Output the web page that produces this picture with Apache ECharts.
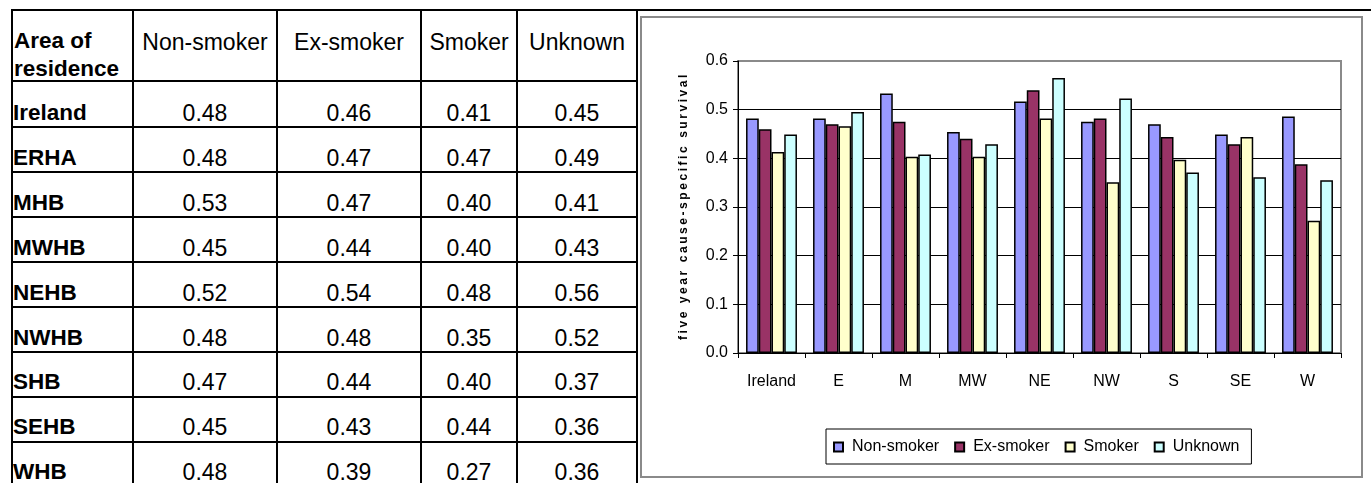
<!DOCTYPE html>
<html>
<head>
<meta charset="utf-8">
<script src="https://cdn.jsdelivr.net/npm/echarts@6/dist/echarts.min.js"></script>
<style>
  html, body { margin:0; padding:0; background:#fff; }
  #page { position:relative; width:1371px; height:483px; overflow:hidden; background:#fff;
          font-family:"Liberation Sans", Arial, sans-serif; color:#000; }
  .ln { position:absolute; background:#000; }
  .cell { position:absolute; font-size:23px; line-height:28px; white-space:nowrap; }
  .b { font-weight:bold; font-size:22.5px; }
  #chart { position:absolute; left:0; top:0; width:1371px; height:483px; }
  #ytitle { position:absolute; font-family:"Liberation Sans", Arial, sans-serif; font-weight:bold;
            font-size:12px; line-height:14px; white-space:nowrap; transform-origin:center center; color:#000; }
</style>
</head>
<body>
<div id="page">
  <div id="table"></div>
  <div id="chart"></div>
  <div id="ytitle">five year cause-specific survival</div>
</div>
<script>
// ---------- Table data ----------
const tableHeader = ['Non-smoker', 'Ex-smoker', 'Smoker', 'Unknown'];
const tableAreas = ['Ireland', 'ERHA', 'MHB', 'MWHB', 'NEHB', 'NWHB', 'SHB', 'SEHB', 'WHB'];
const tableNonSmoker = ['0.48', '0.48', '0.53', '0.45', '0.52', '0.48', '0.47', '0.45', '0.48'];
const tableExSmoker  = ['0.46', '0.47', '0.47', '0.44', '0.54', '0.48', '0.44', '0.43', '0.39'];
const tableSmoker    = ['0.41', '0.47', '0.40', '0.40', '0.48', '0.35', '0.40', '0.44', '0.27'];
const tableUnknown   = ['0.45', '0.49', '0.41', '0.43', '0.56', '0.52', '0.37', '0.36', '0.36'];

// ---------- Chart data ----------
const categories = ['Ireland', 'E', 'M', 'MW', 'NE', 'NW', 'S', 'SE', 'W'];
const seriesNames = ['Non-smoker', 'Ex-smoker', 'Smoker', 'Unknown'];
const nonSmoker = [0.482, 0.482, 0.533, 0.454, 0.517, 0.475, 0.470, 0.449, 0.486];
const exSmoker  = [0.460, 0.470, 0.475, 0.440, 0.540, 0.482, 0.444, 0.429, 0.388];
const smoker    = [0.413, 0.466, 0.403, 0.403, 0.482, 0.351, 0.397, 0.444, 0.272];
const unknown   = [0.449, 0.495, 0.408, 0.429, 0.565, 0.523, 0.371, 0.361, 0.355];
const yTicks = [0, 0.1, 0.2, 0.3, 0.4, 0.5, 0.6];

// ---------- Build table (HTML) ----------
(function buildTable() {
  const t = document.getElementById('table');
  const colX = [12, 133, 277, 421, 517, 637];
  const rowY = [10, 81, 127, 172, 217, 262, 307, 352, 397, 442];
  const add = (cls, style, text) => {
    const d = document.createElement('div');
    d.className = cls;
    Object.assign(d.style, style);
    if (text !== undefined) d.textContent = text;
    t.appendChild(d);
    return d;
  };
  // top page rule
  add('ln', { left: '11px', top: '9px', width: '1360px', height: '2px' });
  // horizontal rules
  rowY.slice(1).forEach(y => add('ln', { left: '11px', top: (y - 1) + 'px', width: (637 - 11 + 1) + 'px', height: '2px' }));
  // vertical rules
  colX.forEach(x => add('ln', { left: (x - 1) + 'px', top: '9px', width: '2px', height: '480px' }));
  // header
  add('cell b', { left: '14px', top: (41 - 14) + 'px' }, 'Area of');
  add('cell b', { left: '14px', top: (69 - 14) + 'px' }, 'residence');
  tableHeader.forEach((h, i) => {
    add('cell', { left: (colX[i + 1] + 1) + 'px', width: (colX[i + 2] - colX[i + 1] - 2) + 'px', textAlign: 'center', top: (42 - 14) + 'px' }, h);
  });
  const cols = [tableNonSmoker, tableExSmoker, tableSmoker, tableUnknown];
  tableAreas.forEach((a, r) => {
    const cy = Math.round(113 + 44.9 * r);
    add('cell b', { left: '13px', top: (cy - 14) + 'px' }, a);
    cols.forEach((col, i) => {
      add('cell', { left: (colX[i + 1] + 1) + 'px', width: (colX[i + 2] - colX[i + 1] - 2) + 'px', textAlign: 'center', top: (cy - 14) + 'px' }, col[r]);
    });
  });
})();

// ---------- Y axis title (rotated, letter-spaced) ----------
(function placeTitle() {
  const el = document.getElementById('ytitle');
  const target = 268;
  const n = el.textContent.length;
  const natural = el.getBoundingClientRect().width;
  el.style.letterSpacing = ((target - natural) / n) + 'px';
  const w = el.getBoundingClientRect().width;
  const cx = 683, cy = 206;
  el.style.left = (cx - w / 2) + 'px';
  el.style.top = (cy - 7) + 'px';
  el.style.transform = 'rotate(-90deg)';
})();

// ---------- Chart ----------
const chart = echarts.init(document.getElementById('chart'), null, { renderer: 'canvas' });
const colors = ['#9999FF', '#993366', '#FFFFCC', '#CCFFFF'];
const valuesList = [nonSmoker, exSmoker, smoker, unknown];
const font = '"Liberation Sans", Arial, sans-serif';

chart.setOption({
  backgroundColor: 'transparent',
  animation: false,
  graphic: [{
    type: 'rect',
    shape: { x: 641, y: 17, width: 721, height: 460 },
    style: { fill: 'none', stroke: '#8a8a8a', lineWidth: 2 },
    z: 0
  }],
  grid: {
    left: 738, top: 61, right: 30, bottom: 130,
    show: true, borderColor: '#8a8a8a', borderWidth: 2, backgroundColor: 'transparent'
  },
  legend: {
    left: 826, top: 429,
    orient: 'horizontal',
    padding: [10, 12, 9, 7],
    borderColor: '#000', borderWidth: 1,
    itemWidth: 9, itemHeight: 9, itemGap: 15,
    icon: 'rect',
    textStyle: { fontFamily: font, fontSize: 16, color: '#000', padding: [0, 0, 0, 4] },
    data: seriesNames
  },
  xAxis: {
    type: 'category',
    data: categories,
    boundaryGap: true,
    axisLine: { lineStyle: { color: '#000', width: 1 } },
    axisTick: { show: true, length: 5, alignWithLabel: false, lineStyle: { color: '#000' } },
    axisLabel: { fontFamily: font, fontSize: 16, color: '#000', margin: 21, interval: 0 },
    splitLine: { show: false }
  },
  yAxis: {
    type: 'value',
    min: yTicks[0], max: yTicks[yTicks.length - 1], interval: 0.1,
    axisLine: { show: true, lineStyle: { color: '#000', width: 1 } },
    axisTick: { show: true, length: 5, lineStyle: { color: '#000' } },
    axisLabel: { fontFamily: font, fontSize: 16, color: '#000', margin: 10,
                 formatter: v => v.toFixed(1) },
    splitLine: { show: true, lineStyle: { color: ['#000', '#000', '#000', '#000', '#000', '#000', '#8a8a8a'], width: 1 } }
  },
  series: valuesList.map((vals, i) => ({
    name: seriesNames[i],
    type: 'bar',
    data: vals,
    barGap: '0%',
    barCategoryGap: '24%',
    itemStyle: { color: colors[i], borderColor: '#000', borderWidth: 1.5 }
  }))
});
</script>
</body>
</html>
